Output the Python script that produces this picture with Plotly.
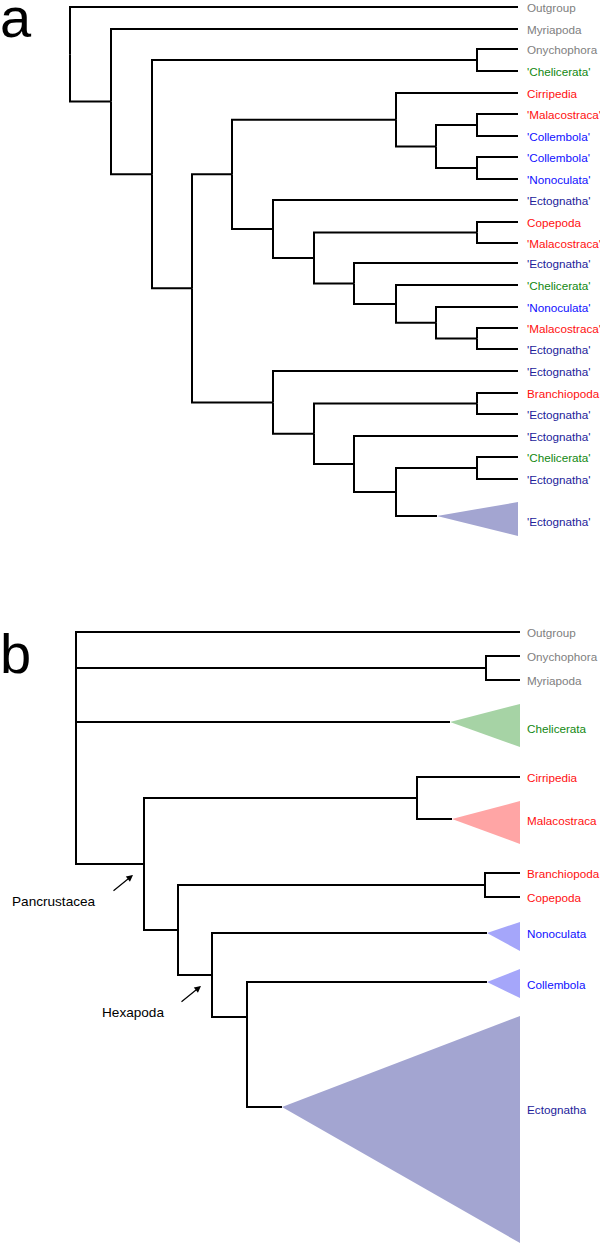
import plotly.graph_objects as go

# ---------------- Tree a ----------------
A_NODE = ["A0", "A1", "A2", "A3", "A4", "A5", "A6", "A7", "A8", "A9", "A10", "A11",
          "A12", "A13", "A14", "A15", "A16", "A17", "A18", "A19", "A20", "A21", "A22"]
A_NODE_X = [70, 111, 152, 477, 192, 232, 396, 436, 477, 477, 273, 314,
            477, 354, 396, 436, 477, 273, 314, 477, 354, 396, 477]
A_NODE_PARENT = [None, "A0", "A1", "A2", "A2", "A4", "A5", "A6", "A7", "A7", "A5", "A10",
                 "A11", "A11", "A13", "A14", "A15", "A4", "A17", "A18", "A18", "A20", "A21"]
A_NODE_Y = [None] * 23

A_LEAF = ["Outgroup", "Myriapoda", "Onychophora", "'Chelicerata'", "Cirripedia",
          "'Malacostraca'", "'Collembola'", "'Collembola'", "'Nonoculata'", "'Ectognatha'",
          "Copepoda", "'Malacostraca'", "'Ectognatha'", "'Chelicerata'", "'Nonoculata'",
          "'Malacostraca'", "'Ectognatha'", "'Ectognatha'", "Branchiopoda", "'Ectognatha'",
          "'Ectognatha'", "'Chelicerata'", "'Ectognatha'"]
A_LEAF_Y = [7, 29, 49, 71, 93, 114, 136, 157, 179, 200, 222, 243, 263, 285, 307,
            328, 349, 371, 393, 414, 436, 457, 479]
A_LEAF_PARENT = ["A0", "A1", "A3", "A3", "A6", "A8", "A8", "A9", "A9", "A10", "A12", "A12",
                 "A13", "A14", "A15", "A16", "A16", "A17", "A19", "A19", "A20", "A22", "A22"]
A_TIP_X = 518

A_CLADE = ["'Ectognatha'"]
A_CLADE_PARENT = ["A21"]
A_CLADE_APEX_X = [437]
A_CLADE_APEX_Y = [516]
A_CLADE_TOP = [502]
A_CLADE_BOTTOM = [536]
A_CLADE_LABEL_Y = [521]

# ---------------- Tree b ----------------
B_NODE = ["B0", "B1", "B2", "B3", "B4", "B5", "B6", "B7"]
B_NODE_X = [76, 486, 144, 417, 178, 485, 212, 247]
B_NODE_PARENT = [None, "B0", "B0", "B2", "B2", "B4", "B4", "B6"]
B_NODE_Y = [None, None, None, None, None, None, None, 1017]

B_LEAF = ["Outgroup", "Onychophora", "Myriapoda", "Cirripedia", "Branchiopoda", "Copepoda"]
B_LEAF_Y = [632, 656, 680, 777, 873, 897]
B_LEAF_PARENT = ["B0", "B1", "B1", "B3", "B5", "B5"]
B_TIP_X = 520

B_CLADE = ["Chelicerata", "Malacostraca", "Nonoculata", "Collembola", "Ectognatha"]
B_CLADE_PARENT = ["B0", "B3", "B6", "B7", "B7"]
B_CLADE_APEX_X = [450, 452, 487, 487, 282]
B_CLADE_APEX_Y = [722, 819, 933, 982, 1107]
B_CLADE_TOP = [704, 801, 922, 969, 1016]
B_CLADE_BOTTOM = [747, 844, 951, 998, 1243]
B_CLADE_LABEL_Y = [728, 820, 933, 984, 1109]

CALLOUT_TEXT = ["Pancrustacea", "Hexapoda"]
CALLOUT_NODE = ["B2", "B6"]

PANEL_LETTER = ["a", "b"]

# ---------------- styling ----------------
TEXT_COLOR = {
    "Outgroup": "#808080", "Myriapoda": "#808080", "Onychophora": "#808080",
    "Chelicerata": "#118811",
    "Cirripedia": "#ff1010", "Malacostraca": "#ff1010", "Copepoda": "#ff1010",
    "Branchiopoda": "#ff1010",
    "Collembola": "#1010ff", "Nonoculata": "#1010ff",
    "Ectognatha": "#22229a",
}
FILL_COLOR = {
    "Chelicerata": "#a6d3a5", "Malacostraca": "#ffa5a5",
    "Collembola": "#a5a6fa", "Nonoculata": "#a5a6fa", "Ectognatha": "#a3a5d1",
}
FONT = "Arial, Liberation Sans, sans-serif"
LABEL_X = 525
LABEL_SIZE = 11.7


def build_tree(node, node_x, node_parent, node_y, leaf_y, leaf_parent,
               clade_parent, clade_apex_x, clade_apex_y):
    x_of = dict(zip(node, node_x))
    fixed = dict(zip(node, node_y))
    kids = {n: [] for n in node}
    for n, p in zip(node, node_parent):
        if p is not None:
            kids[p].append(("node", n))
    for y, p in zip(leaf_y, leaf_parent):
        kids[p].append(("y", y))
    for y, p in zip(clade_apex_y, clade_parent):
        kids[p].append(("y", y))
    y_of = {}

    def get_y(n):
        if n in y_of:
            return y_of[n]
        ys = [get_y(v) if k == "node" else v for k, v in kids[n]]
        y_of[n] = fixed[n] if fixed[n] is not None else (min(ys) + max(ys)) / 2
        return y_of[n]

    for n in node:
        get_y(n)
    return x_of, y_of


fig = go.Figure()


def draw(node, node_x, node_parent, node_y, leaf, leaf_y, leaf_parent, tip_x,
         clade, clade_parent, cax, cay, ctop, cbot, clab):
    x_of, y_of = build_tree(node, node_x, node_parent, node_y, leaf_y, leaf_parent,
                            clade_parent, cax, cay)
    xs, ys = [], []

    def elbow(p, cx, cy):
        xs.extend([x_of[p], x_of[p], cx, None])
        ys.extend([y_of[p], cy, cy, None])

    for n, p in zip(node, node_parent):
        if p is not None:
            elbow(p, x_of[n], y_of[n])
    for y, p in zip(leaf_y, leaf_parent):
        elbow(p, tip_x, y)
    for p, ax_, ay_ in zip(clade_parent, cax, cay):
        elbow(p, ax_, ay_)
    # triangles
    for name, ax_, ay_, t, b in zip(clade, cax, cay, ctop, cbot):
        key = name.strip("'")
        fig.add_trace(go.Scatter(
            x=[ax_, tip_x, tip_x, ax_], y=[ay_, t, b, ay_], mode="lines",
            fill="toself", fillcolor=FILL_COLOR[key], line=dict(width=0),
            hoverinfo="skip"))
    fig.add_trace(go.Scatter(x=xs, y=ys, mode="lines",
                             line=dict(color="black", width=2),
                             hoverinfo="skip"))
    for name, y in list(zip(leaf, leaf_y)) + list(zip(clade, clab)):
        fig.add_annotation(x=LABEL_X, y=y, text=name, showarrow=False,
                           xanchor="left", yanchor="middle",
                           font=dict(family=FONT, size=LABEL_SIZE,
                                     color=TEXT_COLOR[name.strip("'")]))
    return x_of, y_of


draw(A_NODE, A_NODE_X, A_NODE_PARENT, A_NODE_Y, A_LEAF, A_LEAF_Y, A_LEAF_PARENT, A_TIP_X,
     A_CLADE, A_CLADE_PARENT, A_CLADE_APEX_X, A_CLADE_APEX_Y, A_CLADE_TOP,
     A_CLADE_BOTTOM, A_CLADE_LABEL_Y)
bx, by = draw(B_NODE, B_NODE_X, B_NODE_PARENT, B_NODE_Y, B_LEAF, B_LEAF_Y, B_LEAF_PARENT,
              B_TIP_X, B_CLADE, B_CLADE_PARENT, B_CLADE_APEX_X, B_CLADE_APEX_Y,
              B_CLADE_TOP, B_CLADE_BOTTOM, B_CLADE_LABEL_Y)

# callouts (arrow pointing at node, label below-left)
for text, n in zip(CALLOUT_TEXT, CALLOUT_NODE):
    hx, hy = bx[n] - 11, by[n] + 11
    tx, ty = hx - 21, hy + 17
    fig.add_annotation(x=hx, y=hy, ax=tx, ay=ty, axref="x", ayref="y",
                       xref="x", yref="y", text="", showarrow=True,
                       arrowhead=2, arrowsize=1.1, arrowwidth=1.2, arrowcolor="black")
    fig.add_annotation(x=tx - 14, y=ty + 9, text=text, showarrow=False,
                       xanchor="right", yanchor="middle",
                       font=dict(family=FONT, size=13.6, color="black"))

# panel letters
for letter, (px, py, xs_) in zip(PANEL_LETTER, [(0, 17, -2), (0, 653, -2)]):
    fig.add_annotation(x=px, y=py, xshift=xs_, text=letter, showarrow=False,
                       xanchor="left", yanchor="middle",
                       font=dict(family=FONT, size=56, color="black"))

fig.update_layout(
    width=600, height=1245, margin=dict(l=0, r=0, t=0, b=0),
    paper_bgcolor="white", plot_bgcolor="white", showlegend=False,
    xaxis=dict(visible=False, range=[0, 600], fixedrange=True),
    yaxis=dict(visible=False, range=[1245, 0], fixedrange=True),
)

fig.write_html("out.html", config={"displayModeBar": False},
               post_script="document.body.style.margin='0px';")
